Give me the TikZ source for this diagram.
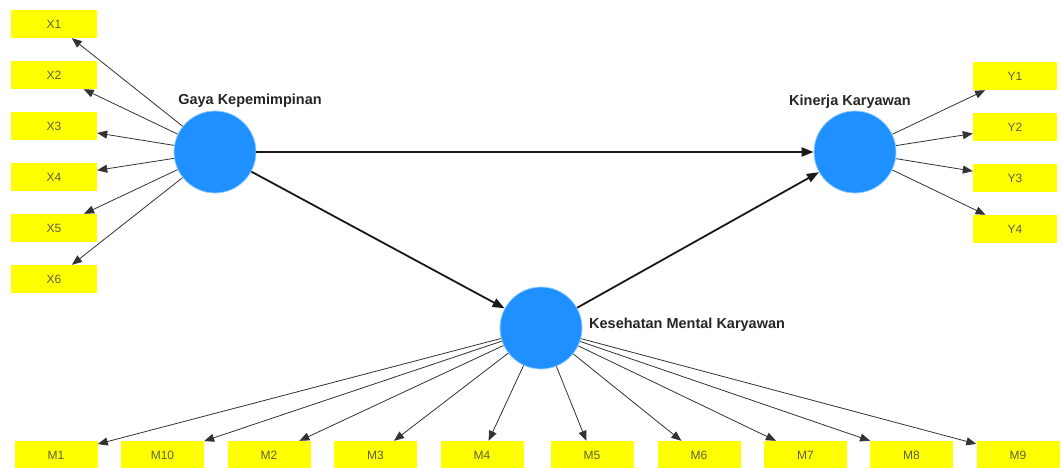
\documentclass[tikz,border=0pt]{standalone}
\usepackage{fontspec}
\setmainfont{Liberation Sans}
\usetikzlibrary{arrows.meta}
\definecolor{lvblue}{RGB}{30,144,255}
\definecolor{lvhalo}{RGB}{150,205,255}
\definecolor{indyellow}{RGB}{255,255,0}
\definecolor{indtext}{RGB}{95,95,70}
\tikzset{
  latent/.style={circle,fill=lvblue,draw=lvhalo,line width=0.8pt,minimum size=82pt,inner sep=0pt},
  indbox/.style={rectangle,fill=indyellow,minimum width=84pt,minimum height=28pt,inner sep=0pt,
    font=\fontsize{12}{12}\selectfont,text=indtext},
  lvlabel/.style={font=\fontsize{14.5}{15}\selectfont\bfseries,text=black!85,inner sep=0pt},
  loadarrow/.style={-{Triangle[length=10pt,width=8pt]},draw=black!80,line width=0.8pt},
  patharrow/.style={-{Triangle[length=12pt,width=9pt]},draw=black!90,line width=1.8pt}
}
\begin{document}
\begin{tikzpicture}[x=1pt,y=-1pt]
\useasboundingbox (0,0) rectangle (1062,468);
\fill[white] (0,0) rectangle (1062,468);
% latent variables
\node[latent] (G) at (215,152) {};
\node[latent] (K) at (855,152) {};
\node[latent] (H) at (541,328) {};
\node[lvlabel] (GL) at (250,101) {Gaya Kepemimpinan};
\node[lvlabel] (KL) at (850,102) {Kinerja Karyawan};
\node[lvlabel,anchor=west] (HL) at (589,325) {Kesehatan Mental Karyawan};
% X indicators
\node[indbox,minimum width=86pt] (X1) at (54,24) {X1};
\node[indbox,minimum width=86pt] (X2) at (54,75) {X2};
\node[indbox,minimum width=86pt] (X3) at (54,126) {X3};
\node[indbox,minimum width=86pt] (X4) at (54,177) {X4};
\node[indbox,minimum width=86pt] (X5) at (54,228) {X5};
\node[indbox,minimum width=86pt] (X6) at (54,279) {X6};
% Y indicators
\node[indbox] (Y1) at (1015,76) {Y1};
\node[indbox] (Y2) at (1015,127) {Y2};
\node[indbox] (Y3) at (1015,178) {Y3};
\node[indbox] (Y4) at (1015,229) {Y4};
% M indicators
\node[indbox,minimum width=83pt] (M1) at (56,455) {M1};
\node[indbox,minimum width=83pt] (M10) at (162.5,455) {M10};
\node[indbox,minimum width=83pt] (M2) at (269,455) {M2};
\node[indbox,minimum width=83pt] (M3) at (375.5,455) {M3};
\node[indbox,minimum width=83pt] (M4) at (482,455) {M4};
\node[indbox,minimum width=83pt] (M5) at (592,455) {M5};
\node[indbox,minimum width=83pt] (M6) at (699,455) {M6};
\node[indbox,minimum width=83pt] (M7) at (805.5,455) {M7};
\node[indbox,minimum width=83pt] (M8) at (911.5,455) {M8};
\node[indbox,minimum width=83pt] (M9) at (1018,455) {M9};
% loadings
\foreach \t in {X1,X2,X3,X4,X5,X6} \draw[loadarrow] (G) -- (\t);
\foreach \t in {Y1,Y2,Y3,Y4} \draw[loadarrow] (K) -- (\t);
\foreach \t in {M1,M10,M2,M3,M4,M5,M6,M7,M8,M9} \draw[loadarrow] (H) -- (\t);
% structural paths
\draw[patharrow] (G) -- (K);
\draw[patharrow] (G) -- (H);
\draw[patharrow] (H) -- (K);
\end{tikzpicture}
\end{document}
